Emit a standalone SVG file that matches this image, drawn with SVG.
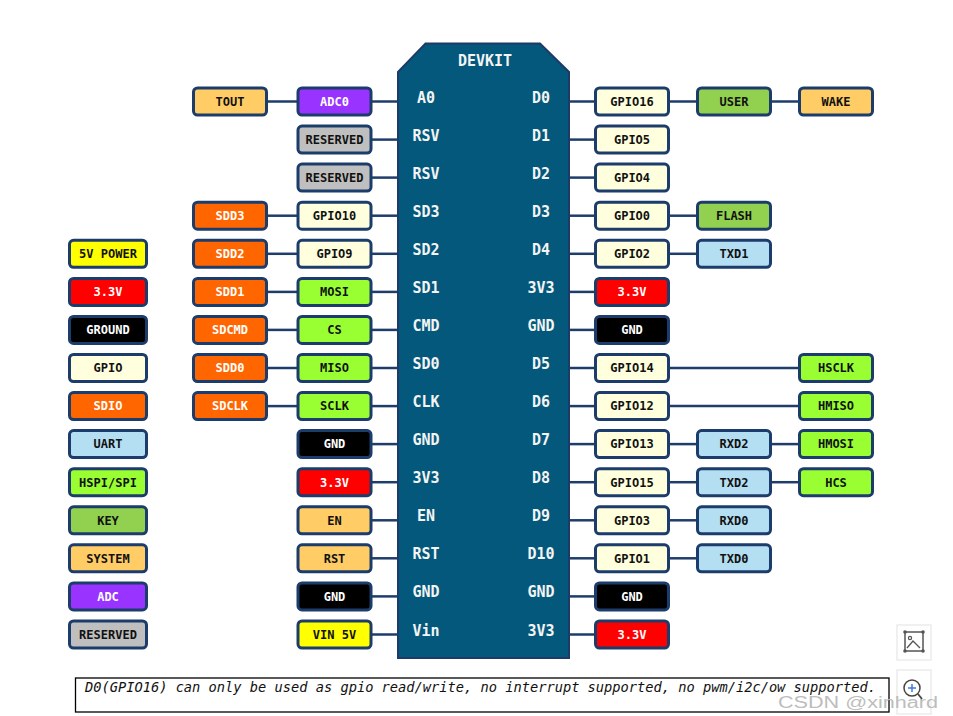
<svg xmlns="http://www.w3.org/2000/svg" width="953" height="716" viewBox="0 0 953 716">
<style>
.b{stroke:#1c3d6b;stroke-width:3}
.sys{fill:#FFCC66}.adc{fill:#9933FF}.rsv{fill:#BFBFBF}.sd{fill:#FF6600}.gp{fill:#FFFFDD}
.spi{fill:#99FF33}.gnd{fill:#000}.v33{fill:#FF0000}.v5{fill:#FFFF00}.uart{fill:#B4DEF2}.key{fill:#92D050}
.t{font-family:"DejaVu Sans Mono","Liberation Mono",monospace;font-weight:bold;font-size:12px;text-anchor:middle;fill:#111}
.w{fill:#fff}
.p{font-family:"DejaVu Sans Mono","Liberation Mono",monospace;font-weight:bold;font-size:15px;text-anchor:middle;fill:#f4f4f4}
.c line{stroke:#1f3d6b;stroke-width:2.5}
</style>
<rect width="953" height="716" fill="#fff"/>
<g id="connectors" class="c">
<line x1="268" y1="101.5" x2="298" y2="101.5"/><line x1="372" y1="101.5" x2="398" y2="101.5"/>
<line x1="569" y1="101.5" x2="595" y2="101.5"/><line x1="670" y1="101.5" x2="697" y2="101.5"/><line x1="772" y1="101.5" x2="799" y2="101.5"/>
<line x1="372" y1="139.6" x2="398" y2="139.6"/><line x1="569" y1="139.6" x2="595" y2="139.6"/>
<line x1="372" y1="177.6" x2="398" y2="177.6"/><line x1="569" y1="177.6" x2="595" y2="177.6"/>
<line x1="268" y1="215.7" x2="298" y2="215.7"/><line x1="372" y1="215.7" x2="398" y2="215.7"/><line x1="569" y1="215.7" x2="595" y2="215.7"/><line x1="670" y1="215.7" x2="697" y2="215.7"/>
<line x1="268" y1="253.8" x2="298" y2="253.8"/><line x1="372" y1="253.8" x2="398" y2="253.8"/><line x1="569" y1="253.8" x2="595" y2="253.8"/><line x1="670" y1="253.8" x2="697" y2="253.8"/>
<line x1="268" y1="291.9" x2="298" y2="291.9"/><line x1="372" y1="291.9" x2="398" y2="291.9"/><line x1="569" y1="291.9" x2="595" y2="291.9"/>
<line x1="268" y1="329.9" x2="298" y2="329.9"/><line x1="372" y1="329.9" x2="398" y2="329.9"/><line x1="569" y1="329.9" x2="595" y2="329.9"/>
<line x1="268" y1="368" x2="298" y2="368"/><line x1="372" y1="368" x2="398" y2="368"/><line x1="569" y1="368" x2="595" y2="368"/><line x1="670" y1="368" x2="799" y2="368"/>
<line x1="268" y1="406.1" x2="298" y2="406.1"/><line x1="372" y1="406.1" x2="398" y2="406.1"/><line x1="569" y1="406.1" x2="595" y2="406.1"/><line x1="670" y1="406.1" x2="799" y2="406.1"/>
<line x1="372" y1="444.1" x2="398" y2="444.1"/><line x1="569" y1="444.1" x2="595" y2="444.1"/><line x1="670" y1="444.1" x2="697" y2="444.1"/><line x1="772" y1="444.1" x2="799" y2="444.1"/>
<line x1="372" y1="482.2" x2="398" y2="482.2"/><line x1="569" y1="482.2" x2="595" y2="482.2"/><line x1="670" y1="482.2" x2="697" y2="482.2"/><line x1="772" y1="482.2" x2="799" y2="482.2"/>
<line x1="372" y1="520.3" x2="398" y2="520.3"/><line x1="569" y1="520.3" x2="595" y2="520.3"/><line x1="670" y1="520.3" x2="697" y2="520.3"/>
<line x1="372" y1="558.3" x2="398" y2="558.3"/><line x1="569" y1="558.3" x2="595" y2="558.3"/><line x1="670" y1="558.3" x2="697" y2="558.3"/>
<line x1="372" y1="596.4" x2="398" y2="596.4"/><line x1="569" y1="596.4" x2="595" y2="596.4"/>
<line x1="372" y1="634.5" x2="398" y2="634.5"/><line x1="569" y1="634.5" x2="595" y2="634.5"/>
</g>
<g id="board">
<polygon points="398,72 425.5,43.5 540,43.5 569,72 569,658 398,658" fill="#03587c" stroke="#1d3b66" stroke-width="2"/>
<text class="p" x="485" y="66">DEVKIT</text>
<text class="p" x="426" y="102.5">A0</text><text class="p" x="541" y="102.5">D0</text>
<text class="p" x="426" y="140.6">RSV</text><text class="p" x="541" y="140.6">D1</text>
<text class="p" x="426" y="178.6">RSV</text><text class="p" x="541" y="178.6">D2</text>
<text class="p" x="426" y="216.7">SD3</text><text class="p" x="541" y="216.7">D3</text>
<text class="p" x="426" y="254.8">SD2</text><text class="p" x="541" y="254.8">D4</text>
<text class="p" x="426" y="292.9">SD1</text><text class="p" x="541" y="292.9">3V3</text>
<text class="p" x="426" y="330.9">CMD</text><text class="p" x="541" y="330.9">GND</text>
<text class="p" x="426" y="369">SD0</text><text class="p" x="541" y="369">D5</text>
<text class="p" x="426" y="407.1">CLK</text><text class="p" x="541" y="407.1">D6</text>
<text class="p" x="426" y="445.1">GND</text><text class="p" x="541" y="445.1">D7</text>
<text class="p" x="426" y="483.2">3V3</text><text class="p" x="541" y="483.2">D8</text>
<text class="p" x="426" y="521.3">EN</text><text class="p" x="541" y="521.3">D9</text>
<text class="p" x="426" y="559.3">RST</text><text class="p" x="541" y="559.3">D10</text>
<text class="p" x="426" y="597.4">GND</text><text class="p" x="541" y="597.4">GND</text>
<text class="p" x="426" y="635.5">Vin</text><text class="p" x="541" y="635.5">3V3</text>
</g>
<!-- left outer column -->
<g id="tout"><rect class="b sys" x="193.5" y="88" width="73" height="27" rx="4"/><text class="t" x="230" y="105.8">TOUT</text></g>
<g id="sdd3"><rect class="b sd" x="193.5" y="202.2" width="73" height="27" rx="4"/><text class="t w" x="230" y="220">SDD3</text></g>
<g id="sdd2"><rect class="b sd" x="193.5" y="240.3" width="73" height="27" rx="4"/><text class="t w" x="230" y="258.1">SDD2</text></g>
<g id="sdd1"><rect class="b sd" x="193.5" y="278.4" width="73" height="27" rx="4"/><text class="t w" x="230" y="296.2">SDD1</text></g>
<g id="sdcmd"><rect class="b sd" x="193.5" y="316.4" width="73" height="27" rx="4"/><text class="t w" x="230" y="334.2">SDCMD</text></g>
<g id="sdd0"><rect class="b sd" x="193.5" y="354.5" width="73" height="27" rx="4"/><text class="t w" x="230" y="372.3">SDD0</text></g>
<g id="sdclk"><rect class="b sd" x="193.5" y="392.6" width="73" height="27" rx="4"/><text class="t w" x="230" y="410.4">SDCLK</text></g>
<!-- left inner column -->
<g id="adc0"><rect class="b adc" x="298" y="88" width="73" height="27" rx="4"/><text class="t w" x="334.5" y="105.8">ADC0</text></g>
<g id="rsv1"><rect class="b rsv" x="298" y="126.1" width="73" height="27" rx="4"/><text class="t" x="334.5" y="143.9">RESERVED</text></g>
<g id="rsv2"><rect class="b rsv" x="298" y="164.1" width="73" height="27" rx="4"/><text class="t" x="334.5" y="181.9">RESERVED</text></g>
<g id="gpio10"><rect class="b gp" x="298" y="202.2" width="73" height="27" rx="4"/><text class="t" x="334.5" y="220">GPIO10</text></g>
<g id="gpio9"><rect class="b gp" x="298" y="240.3" width="73" height="27" rx="4"/><text class="t" x="334.5" y="258.1">GPIO9</text></g>
<g id="mosi"><rect class="b spi" x="298" y="278.4" width="73" height="27" rx="4"/><text class="t" x="334.5" y="296.2">MOSI</text></g>
<g id="cs"><rect class="b spi" x="298" y="316.4" width="73" height="27" rx="4"/><text class="t" x="334.5" y="334.2">CS</text></g>
<g id="miso"><rect class="b spi" x="298" y="354.5" width="73" height="27" rx="4"/><text class="t" x="334.5" y="372.3">MISO</text></g>
<g id="sclk"><rect class="b spi" x="298" y="392.6" width="73" height="27" rx="4"/><text class="t" x="334.5" y="410.4">SCLK</text></g>
<g id="gnd-l1"><rect class="b gnd" x="298" y="430.6" width="73" height="27" rx="4"/><text class="t w" x="334.5" y="448.4">GND</text></g>
<g id="v33-l"><rect class="b v33" x="298" y="468.7" width="73" height="27" rx="4"/><text class="t w" x="334.5" y="486.5">3.3V</text></g>
<g id="en"><rect class="b sys" x="298" y="506.8" width="73" height="27" rx="4"/><text class="t" x="334.5" y="524.6">EN</text></g>
<g id="rst"><rect class="b sys" x="298" y="544.8" width="73" height="27" rx="4"/><text class="t" x="334.5" y="562.6">RST</text></g>
<g id="gnd-l2"><rect class="b gnd" x="298" y="582.9" width="73" height="27" rx="4"/><text class="t w" x="334.5" y="600.7">GND</text></g>
<g id="vin"><rect class="b v5" x="298" y="621" width="73" height="27" rx="4"/><text class="t" x="334.5" y="638.8">VIN 5V</text></g>
<!-- right column 1 -->
<g id="gpio16"><rect class="b gp" x="595.5" y="88" width="73" height="27" rx="4"/><text class="t" x="632" y="105.8">GPIO16</text></g>
<g id="gpio5"><rect class="b gp" x="595.5" y="126.1" width="73" height="27" rx="4"/><text class="t" x="632" y="143.9">GPIO5</text></g>
<g id="gpio4"><rect class="b gp" x="595.5" y="164.1" width="73" height="27" rx="4"/><text class="t" x="632" y="181.9">GPIO4</text></g>
<g id="gpio0"><rect class="b gp" x="595.5" y="202.2" width="73" height="27" rx="4"/><text class="t" x="632" y="220">GPIO0</text></g>
<g id="gpio2"><rect class="b gp" x="595.5" y="240.3" width="73" height="27" rx="4"/><text class="t" x="632" y="258.1">GPIO2</text></g>
<g id="v33-r1"><rect class="b v33" x="595.5" y="278.4" width="73" height="27" rx="4"/><text class="t w" x="632" y="296.2">3.3V</text></g>
<g id="gnd-r1"><rect class="b gnd" x="595.5" y="316.4" width="73" height="27" rx="4"/><text class="t w" x="632" y="334.2">GND</text></g>
<g id="gpio14"><rect class="b gp" x="595.5" y="354.5" width="73" height="27" rx="4"/><text class="t" x="632" y="372.3">GPIO14</text></g>
<g id="gpio12"><rect class="b gp" x="595.5" y="392.6" width="73" height="27" rx="4"/><text class="t" x="632" y="410.4">GPIO12</text></g>
<g id="gpio13"><rect class="b gp" x="595.5" y="430.6" width="73" height="27" rx="4"/><text class="t" x="632" y="448.4">GPIO13</text></g>
<g id="gpio15"><rect class="b gp" x="595.5" y="468.7" width="73" height="27" rx="4"/><text class="t" x="632" y="486.5">GPIO15</text></g>
<g id="gpio3"><rect class="b gp" x="595.5" y="506.8" width="73" height="27" rx="4"/><text class="t" x="632" y="524.6">GPIO3</text></g>
<g id="gpio1"><rect class="b gp" x="595.5" y="544.8" width="73" height="27" rx="4"/><text class="t" x="632" y="562.6">GPIO1</text></g>
<g id="gnd-r2"><rect class="b gnd" x="595.5" y="582.9" width="73" height="27" rx="4"/><text class="t w" x="632" y="600.7">GND</text></g>
<g id="v33-r2"><rect class="b v33" x="595.5" y="621" width="73" height="27" rx="4"/><text class="t w" x="632" y="638.8">3.3V</text></g>
<!-- right column 2 -->
<g id="user"><rect class="b key" x="697.5" y="88" width="73" height="27" rx="4"/><text class="t" x="734" y="105.8">USER</text></g>
<g id="flash"><rect class="b key" x="697.5" y="202.2" width="73" height="27" rx="4"/><text class="t" x="734" y="220">FLASH</text></g>
<g id="txd1"><rect class="b uart" x="697.5" y="240.3" width="73" height="27" rx="4"/><text class="t" x="734" y="258.1">TXD1</text></g>
<g id="rxd2"><rect class="b uart" x="697.5" y="430.6" width="73" height="27" rx="4"/><text class="t" x="734" y="448.4">RXD2</text></g>
<g id="txd2"><rect class="b uart" x="697.5" y="468.7" width="73" height="27" rx="4"/><text class="t" x="734" y="486.5">TXD2</text></g>
<g id="rxd0"><rect class="b uart" x="697.5" y="506.8" width="73" height="27" rx="4"/><text class="t" x="734" y="524.6">RXD0</text></g>
<g id="txd0"><rect class="b uart" x="697.5" y="544.8" width="73" height="27" rx="4"/><text class="t" x="734" y="562.6">TXD0</text></g>
<!-- right column 3 -->
<g id="wake"><rect class="b sys" x="799.5" y="88" width="73" height="27" rx="4"/><text class="t" x="836" y="105.8">WAKE</text></g>
<g id="hsclk"><rect class="b spi" x="799.5" y="354.5" width="73" height="27" rx="4"/><text class="t" x="836" y="372.3">HSCLK</text></g>
<g id="hmiso"><rect class="b spi" x="799.5" y="392.6" width="73" height="27" rx="4"/><text class="t" x="836" y="410.4">HMISO</text></g>
<g id="hmosi"><rect class="b spi" x="799.5" y="430.6" width="73" height="27" rx="4"/><text class="t" x="836" y="448.4">HMOSI</text></g>
<g id="hcs"><rect class="b spi" x="799.5" y="468.7" width="73" height="27" rx="4"/><text class="t" x="836" y="486.5">HCS</text></g>
<!-- legend -->
<g id="legend-5v"><rect class="b v5" x="69.5" y="240.3" width="77" height="27" rx="4"/><text class="t" x="108" y="258.1">5V POWER</text></g>
<g id="legend-33"><rect class="b v33" x="69.5" y="278.4" width="77" height="27" rx="4"/><text class="t w" x="108" y="296.2">3.3V</text></g>
<g id="legend-gnd"><rect class="b gnd" x="69.5" y="316.4" width="77" height="27" rx="4"/><text class="t w" x="108" y="334.2">GROUND</text></g>
<g id="legend-gpio"><rect class="b gp" x="69.5" y="354.5" width="77" height="27" rx="4"/><text class="t" x="108" y="372.3">GPIO</text></g>
<g id="legend-sdio"><rect class="b sd" x="69.5" y="392.6" width="77" height="27" rx="4"/><text class="t w" x="108" y="410.4">SDIO</text></g>
<g id="legend-uart"><rect class="b uart" x="69.5" y="430.6" width="77" height="27" rx="4"/><text class="t" x="108" y="448.4">UART</text></g>
<g id="legend-spi"><rect class="b spi" x="69.5" y="468.7" width="77" height="27" rx="4"/><text class="t" x="108" y="486.5">HSPI/SPI</text></g>
<g id="legend-key"><rect class="b key" x="69.5" y="506.8" width="77" height="27" rx="4"/><text class="t" x="108" y="524.6">KEY</text></g>
<g id="legend-sys"><rect class="b sys" x="69.5" y="544.8" width="77" height="27" rx="4"/><text class="t" x="108" y="562.6">SYSTEM</text></g>
<g id="legend-adc"><rect class="b adc" x="69.5" y="582.9" width="77" height="27" rx="4"/><text class="t w" x="108" y="600.7">ADC</text></g>
<g id="legend-rsv"><rect class="b rsv" x="69.5" y="621" width="77" height="27" rx="4"/><text class="t" x="108" y="638.8">RESERVED</text></g>
<!-- note -->
<g id="note">
<rect x="75.5" y="678" width="813.5" height="34" fill="#fff" stroke="#000" stroke-width="1.3"/>
<text x="85" y="692" font-family="DejaVu Sans Mono, Liberation Mono, monospace" font-style="italic" font-size="13.5" fill="#111" textLength="791" lengthAdjust="spacingAndGlyphs">D0(GPIO16) can only be used as gpio read/write, no interrupt supported, no pwm/i2c/ow supported.</text>
</g>
<!-- viewer overlay -->
<g id="overlay">
<rect x="897" y="625" width="34" height="35" fill="#fff" stroke="#ececec" stroke-width="1.5"/>
<rect x="905" y="632" width="18" height="19" fill="none" stroke="#555" stroke-width="1.5"/>
<circle cx="905" cy="632" r="1.8" fill="#555"/><circle cx="923" cy="632" r="1.8" fill="#555"/><circle cx="905" cy="651" r="1.8" fill="#555"/><circle cx="923" cy="651" r="1.8" fill="#555"/>
<circle cx="910" cy="638" r="1.6" fill="none" stroke="#555" stroke-width="1.2"/>
<polyline points="907,648 913,641 920,648" fill="none" stroke="#555" stroke-width="1.3"/>
<rect x="897" y="670" width="34" height="44" fill="#fff" stroke="#ececec" stroke-width="1.5"/>
<text x="778" y="708" font-family="Liberation Sans, Arial, sans-serif" font-size="16" fill="#bdbdbd" textLength="160" lengthAdjust="spacingAndGlyphs">CSDN @xinhard</text>
<circle cx="912" cy="688" r="8" fill="none" stroke="#444" stroke-width="1.5"/>
<line x1="918" y1="694" x2="922" y2="699" stroke="#444" stroke-width="1.8"/>
<line x1="908" y1="688" x2="916" y2="688" stroke="#3b7ddd" stroke-width="1.5"/>
<line x1="912" y1="684" x2="912" y2="692" stroke="#3b7ddd" stroke-width="1.5"/>
</g>
</svg>
